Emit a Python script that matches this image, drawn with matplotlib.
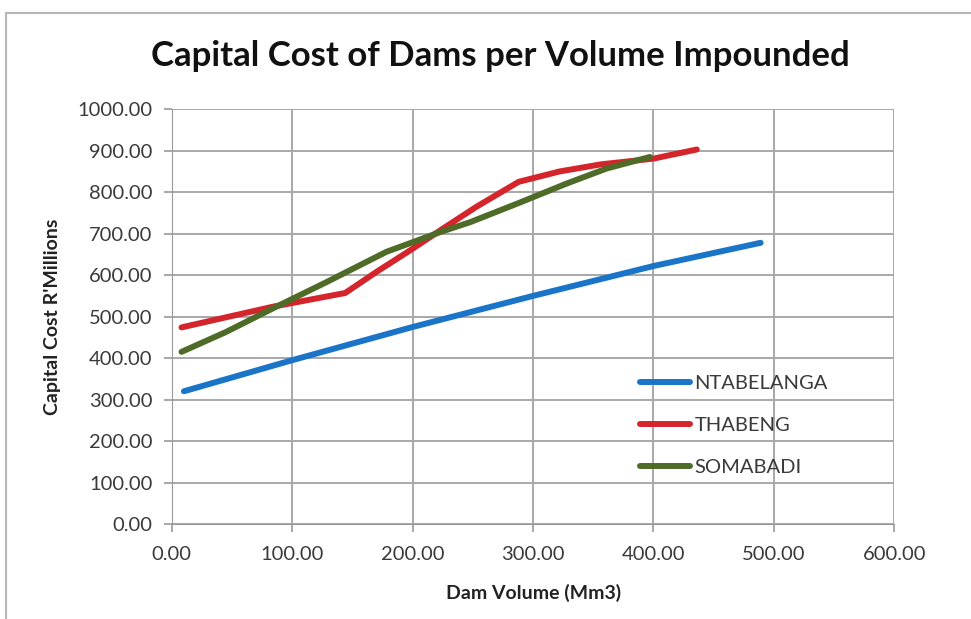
import matplotlib.pyplot as plt
from matplotlib.patches import Rectangle

# values
ntab_x = [10, 100, 200, 300, 400, 489]
ntab_y = [320, 395, 475, 550, 622, 678]

thab_x = [8, 84, 144, 170, 198, 225, 253, 288, 322, 356, 400, 436]
thab_y = [474, 524, 557, 608, 660, 712, 765, 825, 850, 867, 881, 903]

soma_x = [8, 45, 84, 129, 178, 223, 248, 289, 328, 361, 397]
soma_y = [415, 463, 520, 584, 656, 704, 728, 775, 821, 857, 885]

x_ticks = [0, 100, 200, 300, 400, 500, 600]
y_ticks = [0, 100, 200, 300, 400, 500, 600, 700, 800, 900, 1000]

plt.rcParams['font.family'] = ['Lato', 'DejaVu Sans']

fig = plt.figure(figsize=(9.71, 6.19), dpi=100)
ax = fig.add_axes([0.177, 0.1535, 0.744, 0.670])

# chart border (partly cut off in the original screenshot)
fig.patches.append(Rectangle((6 / 971, -0.1), 1.2, 1 - 13 / 619 + 0.1, transform=fig.transFigure,
                             fill=False, edgecolor='#b8b8b8', linewidth=1.5))

ax.plot(ntab_x, ntab_y, color='#1a75c8', linewidth=4.3, solid_capstyle='round', label='NTABELANGA')
ax.plot(thab_x, thab_y, color='#d4242c', linewidth=4.3, solid_capstyle='round', label='THABENG')
ax.plot(soma_x, soma_y, color='#4f6b28', linewidth=4.3, solid_capstyle='round', label='SOMABADI')

ax.set_xlim(0, 600)
ax.set_ylim(0, 1000)
ax.set_xticks(x_ticks)
ax.set_yticks(y_ticks)
ax.set_xticklabels(['%.2f' % v for v in x_ticks])
ax.set_yticklabels(['%.2f' % v for v in y_ticks])
ax.tick_params(colors='#999999', labelcolor='#3a3a3a', labelsize=14.5, length=6, width=1.2)
ax.tick_params(axis='y', pad=8)
ax.tick_params(axis='x', pad=10)
ax.grid(True, color='#a8a8a8', linewidth=1.4)
ax.set_axisbelow(True)
for s in ax.spines.values():
    s.set_visible(False)
ax.spines['left'].set_visible(True)
ax.spines['bottom'].set_visible(True)
ax.spines['left'].set_color('#999999')
ax.spines['bottom'].set_color('#999999')

ax.set_xlabel('Dam Volume (Mm3)', fontsize=14, fontweight='bold', color='#222222', labelpad=15)
ax.set_ylabel("Capital Cost R'Millions", fontsize=14, fontweight='bold', color='#222222', labelpad=12)

fig.text(0.515, 0.909, 'Capital Cost of Dams per Volume Impounded', ha='center', va='center',
         fontsize=25, fontweight='bold', color='#111111')

leg = ax.legend(loc='upper left', bbox_to_anchor=(0.648, 0.36), frameon=False, fontsize=14.5,
                borderpad=0, borderaxespad=0, handlelength=2.5, handletextpad=0.2, labelspacing=1.25)
for t in leg.get_texts():
    t.set_color('#3a3a3a')

fig.savefig('out.png', dpi=100)
